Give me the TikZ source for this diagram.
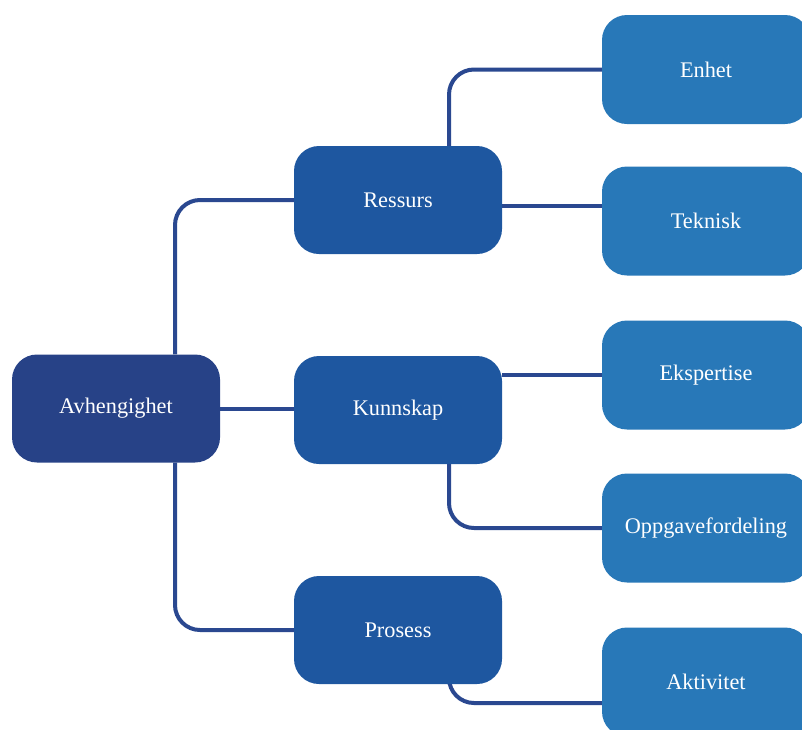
\documentclass[tikz,border=0pt]{standalone}
\usepackage{fontspec}
\setmainfont{Liberation Serif}
\usetikzlibrary{backgrounds}
\definecolor{cDark}{HTML}{274287}
\definecolor{cMid}{HTML}{1E57A0}
\definecolor{cLight}{HTML}{2878B8}
\definecolor{cLine}{HTML}{2A4890}
\tikzset{
  box/.style={rectangle, rounded corners=25pt, minimum width=208pt, minimum height=108pt,
    text=white, font=\fontsize{22.3}{26}\selectfont, inner sep=0pt},
  rootbox/.style={box, fill=cDark},
  midbox/.style={box, fill=cMid},
  leafbox/.style={box, fill=cLight, minimum width=208pt, minimum height=109pt},
  conn/.style={draw=cLine, line width=4pt, rounded corners=25pt}
}
\begin{document}
\begin{tikzpicture}[x=1pt, y=-1pt]
\useasboundingbox (0,0) rectangle (802,729);
\node[rootbox] (av) at (116,408.5) {Avhengighet};
\node[midbox] (re) at (398,200) {Ressurs};
\node[midbox] (ku) at (398,410) {Kunnskap};
\node[midbox] (pr) at (398,630) {Prosess};
\node[leafbox] (en) at (706,69.5) {Enhet};
\node[leafbox] (te) at (706,221) {Teknisk};
\node[leafbox] (ek) at (706,375) {Ekspertise};
\node[leafbox] (op) at (706,528) {Oppgavefordeling};
\node[leafbox] (ak) at (706,682) {Aktivitet};
\coordinate (v1) at (175,0);
\coordinate (v2) at (449,0);
\begin{scope}[on background layer]
\draw[conn] (av.north -| v1) |- (re.west);
\draw[conn] (av.east) -- (av.east -| ku.west);
\draw[conn] (av.south -| v1) |- (pr.west);
\draw[conn] (re.north -| v2) |- (en.west);
\draw[conn] ([yshift=-6pt]re.east) -- ([yshift=-6pt]re.east -| te.west);
\draw[conn] (ku.east |- ek.west) -- (ek.west);
\draw[conn] (ku.south -| v2) |- (op.west);
\draw[conn] (pr.south -| v2) |- ([yshift=-21pt]ak.west);
\end{scope}
\end{tikzpicture}
\end{document}
